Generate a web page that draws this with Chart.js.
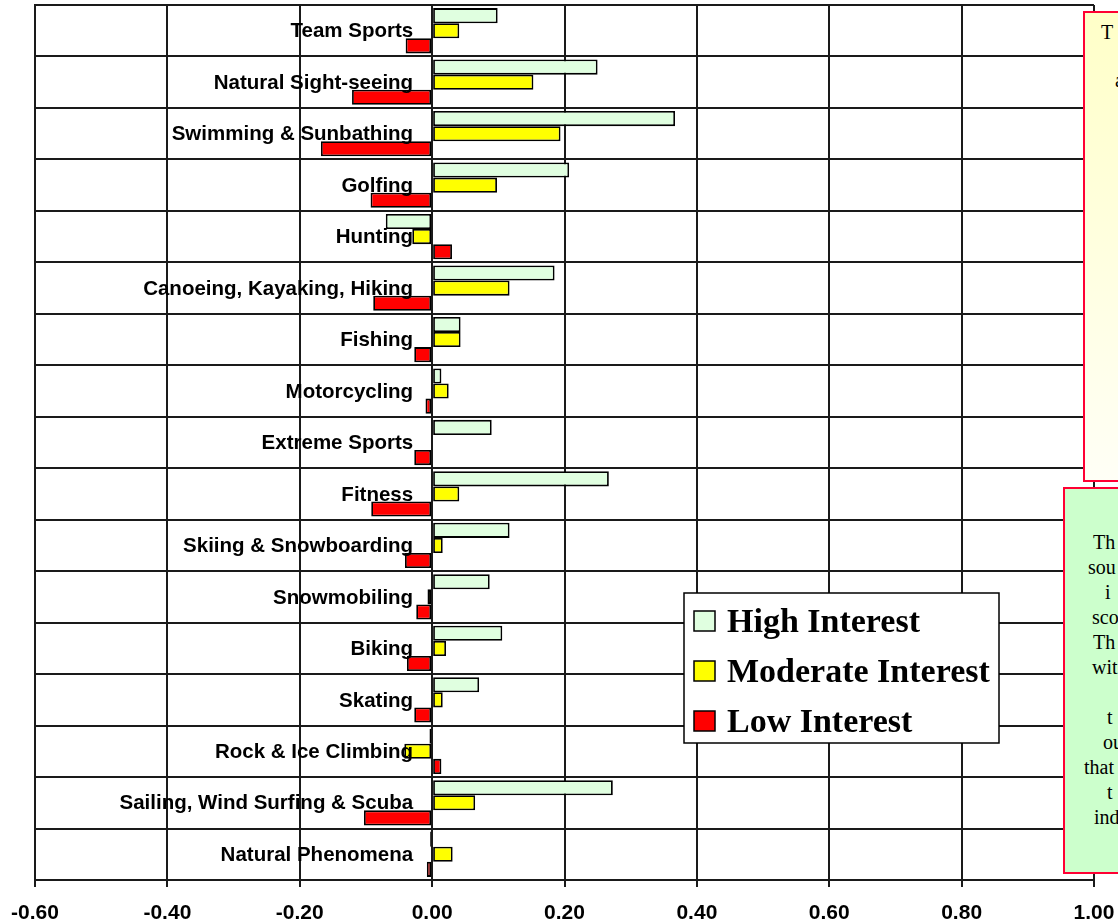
<!DOCTYPE html>
<html>
<head>
<meta charset="utf-8">
<script src="https://cdn.jsdelivr.net/npm/chart.js@4/dist/chart.umd.min.js"></script>
<style>
  html, body { margin: 0; padding: 0; background: #fff; overflow: hidden; }
  #wrap { position: relative; width: 1118px; height: 924px; overflow: hidden; }
  #myChart { position: absolute; left: 0; top: 0; }
  .note { position: absolute; border: 2px solid #ff0033; box-sizing: border-box; }
  .note span { position: absolute; font-family: "Liberation Serif", "Times New Roman", serif; font-size: 20px; line-height: 20px; color: #000; white-space: nowrap; }
</style>
</head>
<body>
<div id="wrap">
  <canvas id="myChart" width="1118" height="924"></canvas>

  <div class="note" style="left:1083px; top:11px; width:300px; height:471px; background:linear-gradient(to bottom, #ffffc8, #fffff6);">
    <span style="left:16px; top:9px;">T</span>
    <span style="left:30px; top:57px;">a</span>
  </div>

  <div class="note" style="left:1063px; top:487px; width:300px; height:387px; background:#ccffcc;">
    <span style="left:28px; top:43px;">Th</span>
    <span style="left:23px; top:68px;">sou</span>
    <span style="left:40px; top:93px;">i</span>
    <span style="left:27px; top:118px;">sco</span>
    <span style="left:28px; top:143px;">Th</span>
    <span style="left:27px; top:168px;">wit</span>
    <span style="left:42px; top:218px;">t</span>
    <span style="left:38px; top:243px;">ou</span>
    <span style="left:19px; top:268px;">that</span>
    <span style="left:42px; top:293px;">t</span>
    <span style="left:29px; top:318px;">ind</span>
  </div>
</div>

<script>
// categorias (de arriba a abajo)
const categories = [
  'Team Sports', 'Natural Sight-seeing', 'Swimming & Sunbathing', 'Golfing',
  'Hunting', 'Canoeing, Kayaking, Hiking', 'Fishing', 'Motorcycling',
  'Extreme Sports', 'Fitness', 'Skiing & Snowboarding', 'Snowmobiling',
  'Biking', 'Skating', 'Rock & Ice Climbing', 'Sailing, Wind Surfing & Scuba',
  'Natural Phenomena'
];

const seriesNames = ['High Interest', 'Moderate Interest', 'Low Interest'];

const highInterest = [0.099, 0.250, 0.367, 0.207, -0.070, 0.185, 0.043, 0.014, 0.090,
                      0.267, 0.117, 0.087, 0.106, 0.071, -0.004, 0.273, -0.003];
const moderateInterest = [0.041, 0.153, 0.194, 0.098, -0.030, 0.117, 0.043, 0.025, 0.000,
                          0.041, 0.016, -0.007, 0.021, 0.016, -0.042, 0.065, 0.031];
const lowInterest = [-0.040, -0.121, -0.168, -0.093, 0.030, -0.089, -0.027, -0.010, -0.027,
                     -0.092, -0.041, -0.024, -0.038, -0.027, 0.014, -0.103, -0.008];

const xMin = -0.6;
const xMax = 1.0;
const xStep = 0.2;

const colors = ['#e0ffe0', '#ffff00', '#ff0000'];

function formatTick(value) {
  if (Math.abs(value) < 1e-9) {
    return '0.00';
  }
  return Number(value).toFixed(2);
}

// etiquetas de categoria junto al cero, encima de las barras
const categoryLabels = {
  id: 'categoryLabels',
  afterDatasetsDraw(chart) {
    let ctx = chart.ctx;
    let xScale = chart.scales.x;
    let yScale = chart.scales.y;
    let x = xScale.getPixelForValue(0) - 19;
    ctx.save();
    ctx.font = 'bold 20.5px "Liberation Sans", Arial, sans-serif';
    ctx.fillStyle = '#000';
    ctx.textAlign = 'right';
    ctx.textBaseline = 'middle';
    for (var i = 0; i < chart.data.labels.length; i++) {
      ctx.fillText(chart.data.labels[i], x, yScale.getPixelForValue(i) + 1);
    }
    ctx.restore();
  }
};

// leyenda en caja, como la del original
const boxLegend = {
  id: 'boxLegend',
  afterDraw(chart) {
    let ctx = chart.ctx;
    let left = 684, top = 593, width = 315, height = 150;
    ctx.save();
    ctx.fillStyle = '#fff';
    ctx.fillRect(left, top, width, height);
    ctx.strokeStyle = '#000';
    ctx.lineWidth = 1.5;
    ctx.strokeRect(left, top, width, height);

    ctx.font = 'bold 34px "Liberation Serif", "Times New Roman", serif';
    ctx.textAlign = 'left';
    ctx.textBaseline = 'alphabetic';
    let datasets = chart.data.datasets;
    for (var i = 0; i < datasets.length; i++) {
      let cy = top + 28 + i * 50;
      ctx.fillStyle = datasets[i].backgroundColor;
      ctx.fillRect(left + 10, cy - 10, 21, 20);
      ctx.strokeStyle = '#000';
      ctx.lineWidth = 1.5;
      ctx.strokeRect(left + 10, cy - 10, 21, 20);
      ctx.fillStyle = '#000';
      ctx.fillText(datasets[i].label, left + 43, cy + 11);
    }
    ctx.restore();
  }
};

let ctx = document.getElementById('myChart').getContext('2d');

let myChart = new Chart(ctx, {
  type: 'bar',
  data: {
    labels: categories,
    datasets: [
      { label: seriesNames[0], data: highInterest, backgroundColor: colors[0] },
      { label: seriesNames[1], data: moderateInterest, backgroundColor: colors[1] },
      { label: seriesNames[2], data: lowInterest, backgroundColor: colors[2] }
    ]
  },
  options: {
    indexAxis: 'y',
    responsive: false,
    animation: false,
    devicePixelRatio: 1,
    layout: {
      padding: { left: 35, right: 24, top: 5, bottom: 1 }
    },
    datasets: {
      bar: {
        borderColor: '#000',
        borderWidth: 1.8,
        borderSkipped: false,
        barPercentage: 1.0,
        categoryPercentage: 0.88
      }
    },
    plugins: {
      legend: { display: false },
      tooltip: { enabled: false },
      title: { display: false }
    },
    scales: {
      x: {
        min: xMin,
        max: xMax,
        afterFit: function(scale) { scale.height = 43; },
        ticks: {
          stepSize: xStep,
          color: '#000',
          padding: 0,
          font: { family: '"Liberation Sans", Arial, sans-serif', size: 21, weight: 'bold', lineHeight: 2.5 },
          callback: function(value) { return formatTick(value); }
        },
        grid: {
          color: '#1a1a1a',
          lineWidth: 2,
          tickLength: 7,
          drawTicks: true
        },
        border: { display: true, color: '#1a1a1a', width: 2 }
      },
      y: {
        ticks: { display: false },
        grid: {
          color: '#1a1a1a',
          lineWidth: 2,
          drawTicks: false,
          offset: true
        },
        border: { display: true, color: '#1a1a1a', width: 2 }
      }
    }
  },
  plugins: [categoryLabels, boxLegend]
});
</script>
</body>
</html>
